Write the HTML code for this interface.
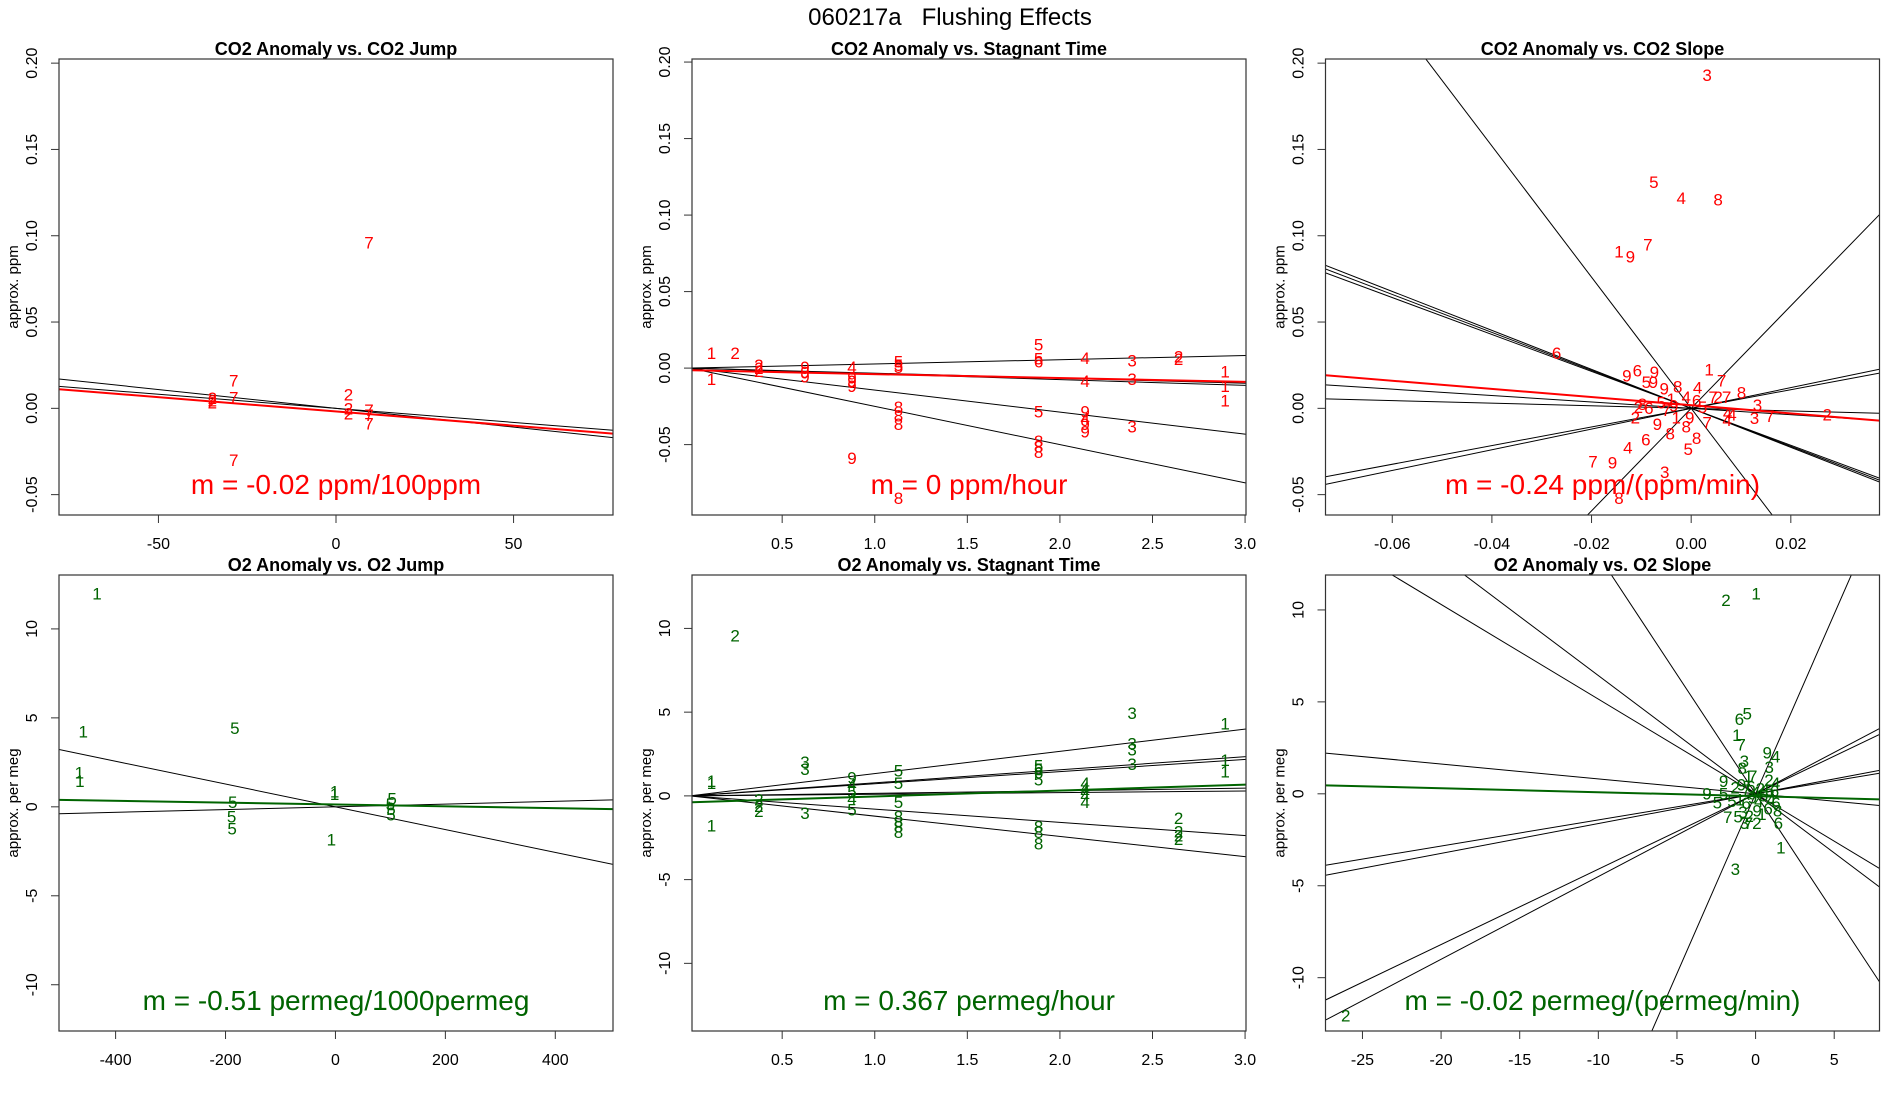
<!DOCTYPE html>
<html><head><meta charset="utf-8"><title>060217a Flushing Effects</title>
<style>
html,body{margin:0;padding:0;background:#fff;overflow:hidden;width:1900px;height:1100px;}
svg{display:block;font-family:"Liberation Sans",Arial,sans-serif;}
</style></head>
<body>
<svg id="chart" width="1900" height="1100" viewBox="0 0 1900 1100" xmlns="http://www.w3.org/2000/svg">
<rect x="0" y="0" width="1900" height="1100" fill="#fff"/>
<text x="950" y="25" font-size="24" text-anchor="middle" style="white-space:pre">060217a&#160;&#160;&#160;Flushing Effects</text>
</svg>
<script>
// ---------- Panel 1: CO2 Anomaly vs CO2 Jump ----------
const p1X = [9.3,-28.8,-28.8,-28.8,-34.8,-34.8,-34.8,3.5,3.5,3.5,9.3,9.3,9.3];
const p1Y = [0.096,0.016,0.0063,-0.030,0.006,0.0045,0.0035,0.008,0.0,-0.003,-0.001,-0.004,-0.0088];
const p1Lab = ["7","7","7","7","2","2","2","2","2","2","7","7","7"];
const p1Slopes = [-0.000218,-0.000163];
const p1Fit = [-0.0018,-0.000165];
const p1XTicks = [-50,0,50];
const p1YTicks = [-0.05,0,0.05,0.10,0.15,0.20];

// ---------- Panel 2: CO2 Anomaly vs Stagnant Time ----------
const p2X = [0.118,0.246,0.118,0.374,0.374,0.374,0.623,0.623,0.623,0.877,0.877,0.877,0.877,0.877,1.128,1.128,1.128,1.128,1.128,1.128,1.128,1.885,1.885,1.885,1.885,1.885,1.885,1.885,2.136,2.136,2.136,2.136,2.136,2.136,2.39,2.39,2.39,2.641,2.641,2.892,2.892,2.892];
const p2Y = [0.010,0.010,-0.0071,0.002,0.000,-0.002,0.0008,-0.0026,-0.0054,0.0008,-0.006,-0.0085,-0.0118,-0.0588,0.0043,0.002,0.0008,-0.0253,-0.031,-0.0365,-0.085,0.0153,0.0062,0.0043,-0.0285,-0.0478,-0.0513,-0.0547,0.0066,-0.0083,-0.0285,-0.033,-0.0365,-0.0413,0.005,-0.0071,-0.0381,0.0077,0.006,-0.0023,-0.0118,-0.0211];
const p2Lab = ["1","2","1","2","2","2","9","9","9","4","9","9","9","9","5","5","5","8","8","8","8","5","5","6","5","8","8","8","4","4","9","4","9","9","3","3","3","2","2","1","1","1"];
const p2Slopes = [0.00274,-0.00376,-0.0033,-0.01438,-0.025];
const p2Fit = [-0.0014,-0.00254];
const p2XTicks = [0.5,1.0,1.5,2.0,2.5,3.0];
const p2YTicks = [-0.05,0,0.05,0.10,0.15,0.20];

// ---------- Panel 3: CO2 Anomaly vs CO2 Slope ----------
const p3X = [0.0032,-0.0075,-0.002,0.0054,-0.0145,-0.0122,-0.0087,-0.027,-0.0129,-0.0108,-0.0074,-0.009,-0.0076,0.0036,0.0061,-0.0054,-0.0027,0.0013,0.0044,0.0054,0.0071,0.0101,0.0133,0.0127,0.0158,0.0273,0.0073,0.0082,0.0072,-0.0106,-0.0098,-0.0085,-0.0112,-0.0068,-0.0042,-0.001,0.0011,-0.0006,-0.0091,-0.0127,-0.0197,-0.0158,-0.0053,-0.0145,-0.0003,-0.003,0.0023,0.0032,-0.001,0.0011,-0.0035,-0.006,-0.005,-0.004];
const p3Y = [0.193,0.131,0.122,0.121,0.091,0.088,0.095,0.032,0.019,0.022,0.021,0.0154,0.0154,0.0225,0.016,0.0116,0.0126,0.012,0.0066,0.0066,0.0066,0.0092,0.0019,-0.0057,-0.0043,-0.0037,-0.0027,-0.0037,-0.0068,0.0007,0.0025,0.0003,-0.0053,-0.009,-0.0145,-0.0104,-0.0172,-0.0237,-0.0182,-0.0227,-0.0308,-0.0314,-0.0369,-0.0519,-0.0053,-0.0053,0.0008,-0.0083,0.0065,0.0045,0.0015,0.0035,-0.001,0.0055];
const p3Lab = ["3","5","4","8","1","9","7","6","9","6","9","5","9","1","7","9","8","4","7","2","7","8","3","3","7","2","4","4","4","2","8","6","2","9","8","8","8","5","6","4","7","9","3","8","9","1","5","7","4","6","9","5","7","1"];
const p3Slopes = [-3.8,2.97,-1.129,-1.07,-1.1,-0.185,-0.075,0.54,0.60];
const p3Fit = [0.0018,-0.2365];
const p3XTicks = [-0.06,-0.04,-0.02,0.00,0.02];
const p3YTicks = [-0.05,0,0.05,0.10,0.15,0.20];

// ---------- Panel 4: O2 Anomaly vs O2 Jump ----------
const p4X = [-434,-459,-466,-465,-183,-187,-189,-188,-1.5,-1.5,-7.5,103,100,101,101];
const p4Y = [12.0,4.24,1.93,1.44,4.44,0.26,-0.53,-1.22,0.85,0.72,-1.83,0.46,0.16,-0.13,-0.43];
const p4Lab = ["1","1","1","1","5","5","5","5","1","1","1","5","5","5","5"];
const p4Slopes = [-0.0064,0.00077];
const p4Fit = [0.13,-0.000516];
const p4XTicks = [-400,-200,0,200,400];
const p4YTicks = [-10,-5,0,5,10];

// ---------- Panel 5: O2 Anomaly vs Stagnant Time ----------
const p5X = [0.246,0.118,0.118,0.118,0.623,0.623,0.623,0.374,0.374,0.374,0.877,0.877,0.877,0.877,0.877,1.128,1.128,1.128,1.128,1.128,1.128,1.128,1.885,1.885,1.885,1.885,1.885,1.885,1.885,2.136,2.136,2.136,2.136,2.136,2.39,2.39,2.39,2.39,2.641,2.641,2.641,2.641,2.892,2.892,2.892];
const p5Y = [9.57,0.88,0.78,-1.78,2.03,1.61,-1.01,-0.21,-0.59,-0.9,1.09,0.67,0.25,-0.17,-0.8,1.51,0.78,-0.38,-1.22,-1.53,-1.84,-2.16,1.82,1.61,1.4,0.98,-1.84,-2.16,-2.85,0.78,0.46,0.25,0.01,-0.38,4.96,3.14,2.76,1.89,-1.32,-2.12,-2.37,-2.58,4.33,2.14,1.46];
const p5Lab = ["2","1","1","1","3","3","3","2","2","2","9","4","5","4","5","5","5","5","8","8","8","8","5","5","6","5","8","8","8","4","4","4","4","4","3","3","3","3","2","2","2","2","1","1","1"];
const p5Slopes = [1.33,0.78,0.725,0.153,0.097,-0.79,-1.21];
const p5Fit = [-0.385,0.351];
const p5XTicks = [0.5,1.0,1.5,2.0,2.5,3.0];
const p5YTicks = [-10,-5,0,5,10];

// ---------- Panel 6: O2 Anomaly vs O2 Slope ----------
const p6X = [-1.88,0.03,-1.03,-0.53,-1.19,-0.92,0.74,1.27,-0.71,0.87,-0.85,-0.18,-0.45,0.85,1.27,-2.03,-3.09,-2.03,-2.43,-1.77,-1.11,-0.71,-0.45,0.08,1.45,1.61,-1.29,-26.06,-1.3,-0.9,-0.6,-0.3,0.0,0.3,0.6,0.9,1.2,-1.0,-0.6,-0.2,0.2,0.5,1.0,1.3,-0.8,-0.4,0.1,0.4,0.8,-1.5,1.4];
const p6Y = [10.54,10.89,4.08,4.36,3.2,2.69,2.25,2.02,1.79,1.45,1.4,0.97,0.97,0.75,0.6,0.69,0.02,0.02,-0.46,-1.26,-1.23,-1.6,-1.6,-1.6,-1.6,-2.93,-4.08,-12.05,0.35,0.5,0.2,0.4,0.1,0.3,0.25,0.2,0.15,-0.3,-0.5,-0.2,-0.4,-0.1,-0.3,-0.5,-1.0,-1.2,-0.9,-1.1,-0.8,-0.4,-0.9];
const p6Lab = ["2","1","6","5","1","7","9","4","3","3","8","7","1","2","4","9","9","5","5","7","5","3","7","2","6","1","3","2","2","9","7","6","4","2","4","5","6","1","6","9","4","5","4","6","3","2","9","1","6","5","8"];
const p6Slopes = [-0.515,-0.643,-1.298,1.955,-0.081,0.142,0.162,0.41,0.45];
const p6Fit = [-0.13,-0.0216];
const p6XTicks = [-25,-20,-15,-10,-5,0,5];
const p6YTicks = [-10,-5,0,5,10];

const NS = "http://www.w3.org/2000/svg";
const svg = document.getElementById("chart");

function mk(tag, attrs, parent){
  const e = document.createElementNS(NS, tag);
  for (const k in attrs) e.setAttribute(k, attrs[k]);
  (parent||svg).appendChild(e);
  return e;
}

function fmt(v, dec){ return dec>0 ? v.toFixed(dec) : String(v); }

function drawPanel(cfg){
  const g = mk("g", {});
  
  
  const L = cfg.left, T = cfg.top, W = 554, H = 456;
  const sx = v => L + (v - cfg.xlim[0]) / (cfg.xlim[1] - cfg.xlim[0]) * W;
  const sy = v => T + (cfg.ylim[1] - v) / (cfg.ylim[1] - cfg.ylim[0]) * H;
  const cid = "clip-" + cfg.name;
  const defs = mk("defs", {}, g);
  const cp = mk("clipPath", {id: cid}, defs);
  mk("rect", {x: L, y: T, width: W, height: H}, cp);

  const t = mk("text", {x: L + W/2, y: T - 4, "font-size": 18, "font-weight": "bold", "text-anchor": "middle"}, g);
  t.textContent = cfg.title;
  
  

  const yl = mk("text", {x: 0, y: 0, "font-size": 15, "text-anchor": "middle", transform: `translate(${L-41},${T+H/2}) rotate(-90)`}, g);
  yl.textContent = cfg.ylab;
  
  

  const xa = mk("g", {}, g);
  
  
  const xt = cfg.xticks;
  mk("line", {x1: sx(xt[0]), y1: T+H, x2: sx(xt[xt.length-1]), y2: T+H, stroke: "#333", "stroke-width": 1}, xa);
  xt.forEach(v => {
    const x = sx(v);
    mk("line", {x1: x, y1: T+H, x2: x, y2: T+H+8, stroke: "#333", "stroke-width": 1}, xa);
    const tl = mk("text", {x: x, y: T+H+34, "font-size": 16, "text-anchor": "middle"}, xa);
    tl.textContent = fmt(v, cfg.xdec);
    
    
  });

  const ya = mk("g", {}, g);
  
  
  const yt = cfg.yticks;
  mk("line", {x1: L, y1: sy(yt[0]), x2: L, y2: sy(yt[yt.length-1]), stroke: "#333", "stroke-width": 1}, ya);
  yt.forEach(v => {
    const y = sy(v);
    mk("line", {x1: L, y1: y, x2: L-8, y2: y, stroke: "#333", "stroke-width": 1}, ya);
    const tl = mk("text", {x: 0, y: 0, "font-size": 16, "text-anchor": "middle", transform: `translate(${L-22},${y}) rotate(-90)`}, ya);
    tl.textContent = fmt(v, cfg.ydec);
    
    
  });

  const plot = mk("g", {"clip-path": `url(#${cid})`}, g);
  
  

  cfg.slopes.forEach(s => {
    const ln = mk("line", {x1: sx(cfg.xlim[0]), y1: sy(s*cfg.xlim[0]), x2: sx(cfg.xlim[1]), y2: sy(s*cfg.xlim[1]), stroke: "#000", "stroke-width": 1}, plot);
    
    
  });

  cfg.xs.forEach((xv, i) => {
    const p = mk("text", {x: sx(xv), y: sy(cfg.ys[i]) + 6, "font-size": 17, fill: cfg.color, "text-anchor": "middle"}, plot);
    p.textContent = cfg.labs[i];
    
    
  });

  const a = cfg.fit[0], b = cfg.fit[1];
  const fl = mk("line", {x1: sx(cfg.xlim[0]), y1: sy(a + b*cfg.xlim[0]), x2: sx(cfg.xlim[1]), y2: sy(a + b*cfg.xlim[1]), stroke: cfg.color, "stroke-width": 2}, plot);
  
  

  const m = mk("text", {x: L + W/2, y: T + H - 21, "font-size": 28, fill: cfg.color, "text-anchor": "middle"}, g);
  m.textContent = cfg.note;
  
  

  const bx = mk("rect", {x: L, y: T, width: W, height: H, fill: "none", stroke: "#333", "stroke-width": 1.2}, g);
  
  
}

const RED = "#ff0000", GREEN = "#006400";
const lefts = [59, 692, 1325.5];
const tops = [59, 575];

drawPanel({name:"co2-jump-panel", left:lefts[0], top:tops[0], xlim:[-78,78], ylim:[-0.0618,0.2024], xticks:p1XTicks, yticks:p1YTicks, xdec:0, ydec:2, xs:p1X, ys:p1Y, labs:p1Lab, slopes:p1Slopes, fit:p1Fit, color:RED, title:"CO2 Anomaly vs. CO2 Jump", ylab:"approx. ppm", note:"m = -0.02 ppm/100ppm"});
drawPanel({name:"co2-stagnant-panel", left:lefts[1], top:tops[0], xlim:[0.013,3.005], ylim:[-0.096,0.202], xticks:p2XTicks, yticks:p2YTicks, xdec:1, ydec:2, xs:p2X, ys:p2Y, labs:p2Lab, slopes:p2Slopes, fit:p2Fit, color:RED, title:"CO2 Anomaly vs. Stagnant Time", ylab:"approx. ppm", note:"m = 0 ppm/hour"});
drawPanel({name:"co2-slope-panel", left:lefts[2], top:tops[0], xlim:[-0.0734,0.0378], ylim:[-0.0618,0.2024], xticks:p3XTicks, yticks:p3YTicks, xdec:2, ydec:2, xs:p3X, ys:p3Y, labs:p3Lab, slopes:p3Slopes, fit:p3Fit, color:RED, title:"CO2 Anomaly vs. CO2 Slope", ylab:"approx. ppm", note:"m = -0.24 ppm/(ppm/min)"});
drawPanel({name:"o2-jump-panel", left:lefts[0], top:tops[1], xlim:[-503,505], ylim:[-12.6,13.03], xticks:p4XTicks, yticks:p4YTicks, xdec:0, ydec:0, xs:p4X, ys:p4Y, labs:p4Lab, slopes:p4Slopes, fit:p4Fit, color:GREEN, title:"O2 Anomaly vs. O2 Jump", ylab:"approx. per meg", note:"m = -0.51 permeg/1000permeg"});
drawPanel({name:"o2-stagnant-panel", left:lefts[1], top:tops[1], xlim:[0.013,3.005], ylim:[-14.04,13.19], xticks:p5XTicks, yticks:p5YTicks, xdec:1, ydec:0, xs:p5X, ys:p5Y, labs:p5Lab, slopes:p5Slopes, fit:p5Fit, color:GREEN, title:"O2 Anomaly vs. Stagnant Time", ylab:"approx. per meg", note:"m = 0.367 permeg/hour"});
drawPanel({name:"o2-slope-panel", left:lefts[2], top:tops[1], xlim:[-27.35,7.88], ylim:[-12.9,11.9], xticks:p6XTicks, yticks:p6YTicks, xdec:0, ydec:0, xs:p6X, ys:p6Y, labs:p6Lab, slopes:p6Slopes, fit:p6Fit, color:GREEN, title:"O2 Anomaly vs. O2 Slope", ylab:"approx. per meg", note:"m = -0.02 permeg/(permeg/min)"});
</script>
</body></html>
